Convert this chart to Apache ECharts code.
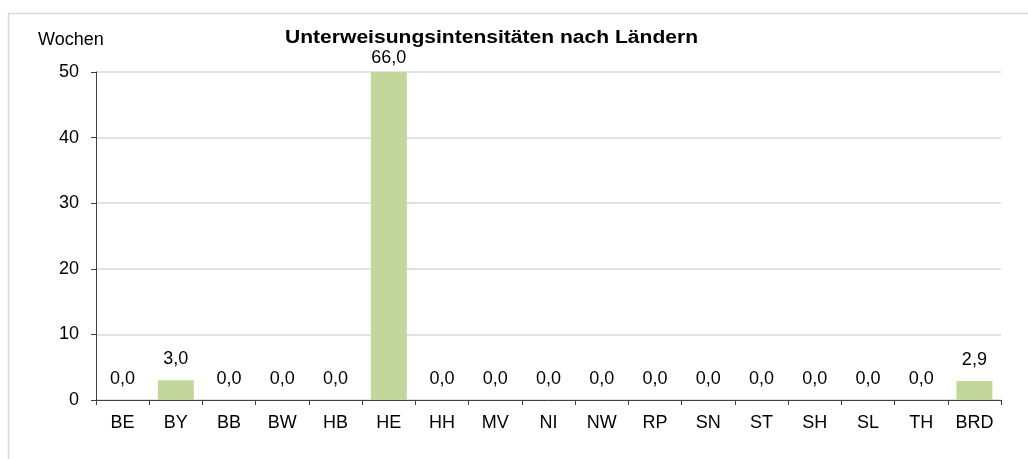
<!DOCTYPE html>
<html>
<head>
<meta charset="utf-8">
<script src="https://cdn.jsdelivr.net/npm/echarts@6/dist/echarts.min.js"></script>
<style>
  html, body { margin: 0; padding: 0; background: #ffffff; }
  #chart { width: 1028px; height: 459px; }
</style>
</head>
<body>
<div id="chart"></div>
<script>
// Länderkürzel und Unterweisungsintensität in Wochen
const laender = ['BE', 'BY', 'BB', 'BW', 'HB', 'HE', 'HH', 'MV', 'NI', 'NW', 'RP', 'SN', 'ST', 'SH', 'SL', 'TH', 'BRD'];
const wochen = [0.0, 3.0, 0.0, 0.0, 0.0, 66.0, 0.0, 0.0, 0.0, 0.0, 0.0, 0.0, 0.0, 0.0, 0.0, 0.0, 2.9];
const yTicks = [0, 10, 20, 30, 40, 50];

const yMax = yTicks[yTicks.length - 1];
const fontFamily = '"Liberation Sans", Arial, sans-serif';

const fmt = v => v.toFixed(1).replace('.', ',');

// Bars above the axis maximum are clipped; their label sits closer to the top edge
const barData = wochen.map(v => v > yMax
  ? { value: v, label: { distance: 5 } }
  : v);

const chart = echarts.init(document.getElementById('chart'), null, { renderer: 'canvas' });

chart.setOption({
  animation: false,
  backgroundColor: '#ffffff',
  grid: { left: 96, right: 27, top: 72, bottom: 59, containLabel: false },
  graphic: [
    {
      type: 'polyline',
      shape: { points: [[8.5, 470], [8.5, 13.5], [1040, 13.5]] },
      style: { stroke: '#d9d9d9', lineWidth: 1.5, fill: null },
      silent: true
    },
    {
      type: 'text',
      x: 38, y: 40,
      style: {
        text: 'Wochen',
        font: '18px ' + fontFamily,
        fill: '#000000',
        verticalAlign: 'middle'
      }
    },
    {
      type: 'text',
      x: 285, y: 38,
      scaleX: 1.17,
      style: {
        text: 'Unterweisungsintensitäten nach Ländern',
        font: 'bold 18px ' + fontFamily,
        fill: '#000000',
        verticalAlign: 'middle'
      }
    }
  ],
  xAxis: {
    type: 'category',
    data: laender,
    axisLine: { lineStyle: { color: '#404040', width: 1 } },
    axisTick: { show: true, length: 5, alignWithLabel: false, lineStyle: { color: '#404040' } },
    axisLabel: { color: '#000000', fontSize: 18, fontFamily: fontFamily, margin: 14, interval: 0 }
  },
  yAxis: {
    type: 'value',
    min: yTicks[0],
    max: yMax,
    interval: yTicks[1] - yTicks[0],
    axisLine: { show: true, lineStyle: { color: '#404040', width: 1 } },
    axisTick: { show: true, length: 5, lineStyle: { color: '#404040' } },
    axisLabel: { color: '#000000', fontSize: 18, fontFamily: fontFamily, margin: 17 },
    splitLine: { show: true, lineStyle: { color: '#d9d9d9', width: 1.5 } }
  },
  series: [{
    type: 'bar',
    data: barData,
    barWidth: 36,
    clip: true,
    itemStyle: { color: '#c3d69b' },
    label: {
      show: true,
      position: 'top',
      distance: 12,
      color: '#000000',
      fontSize: 18,
      fontFamily: fontFamily,
      formatter: p => fmt(p.value)
    }
  }]
});
</script>
</body>
</html>
